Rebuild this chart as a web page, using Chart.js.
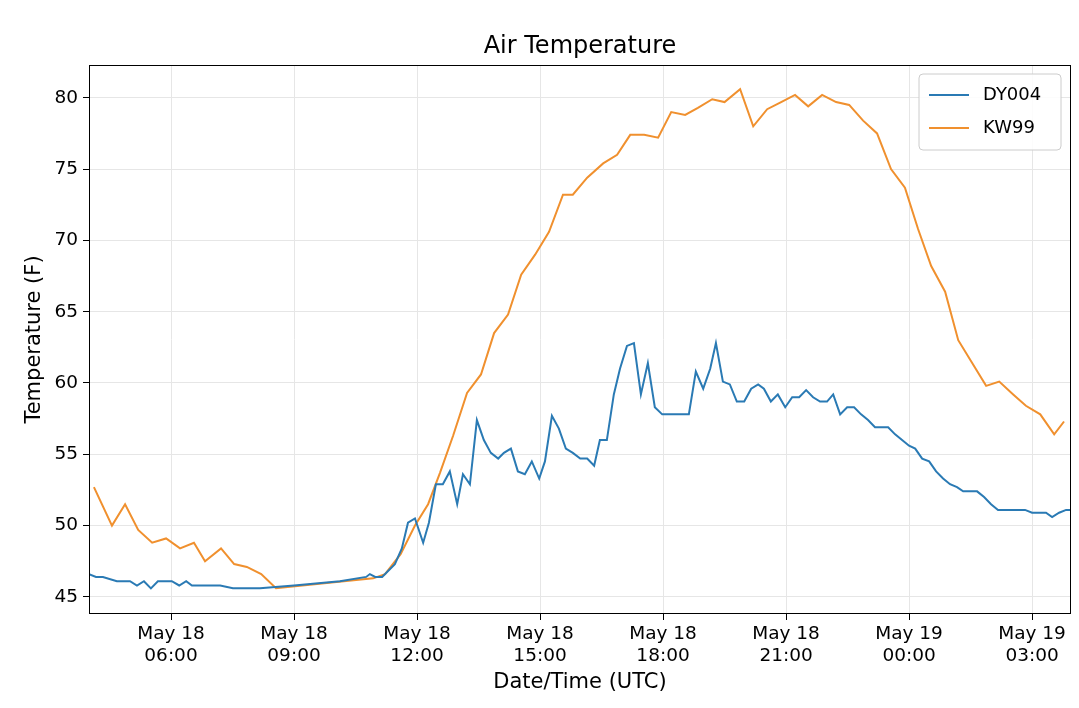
<!DOCTYPE html>
<html><head><meta charset="utf-8">
<script src="https://cdn.jsdelivr.net/npm/chart.js@4"></script>
<style>html,body{margin:0;padding:0;background:#fff}#w{width:1079px;height:708px}</style>
</head><body><div id="w"><canvas id="c"></canvas></div>
<script>
// hours since May 18 00:00 UTC
const dyHours=[4.00,4.17,4.34,4.68,5.00,5.17,5.34,5.51,5.68,6.02,6.20,6.37,6.51,7.20,7.51,8.17,9.00,10.12,10.76,10.85,10.98,11.15,11.46,11.63,11.78,11.95,12.15,12.29,12.46,12.63,12.80,12.98,13.12,13.29,13.46,13.63,13.80,13.98,14.12,14.29,14.46,14.63,14.80,14.98,15.12,15.29,15.46,15.63,15.80,15.98,16.15,16.32,16.46,16.63,16.80,16.95,17.12,17.29,17.46,17.63,17.80,17.98,18.63,18.80,18.98,19.15,19.29,19.46,19.63,19.80,19.98,20.15,20.32,20.46,20.63,20.80,20.98,21.15,21.32,21.49,21.66,21.83,22.00,22.15,22.32,22.49,22.66,22.83,23.00,23.17,23.49,23.66,23.83,24.00,24.15,24.32,24.49,24.66,24.83,25.00,25.17,25.32,25.66,25.83,26.00,26.17,26.83,27.00,27.34,27.49,27.66,27.83,27.95];
const dyTemp=[46.6,46.4,46.4,46.1,46.1,45.8,46.1,45.6,46.1,46.1,45.8,46.1,45.8,45.8,45.6,45.6,45.8,46.1,46.4,46.6,46.4,46.4,47.3,48.4,50.2,50.5,48.8,50.2,52.9,52.9,53.8,51.5,53.6,52.9,57.4,56.0,55.1,54.7,55.1,55.4,53.8,53.6,54.5,53.3,54.5,57.7,56.8,55.4,55.1,54.7,54.7,54.2,56.0,56.0,59.2,61.0,62.6,62.8,59.2,61.4,58.3,57.8,57.8,60.8,59.6,61.0,62.8,60.1,59.9,58.7,58.7,59.6,59.9,59.6,58.7,59.2,58.3,59.0,59.0,59.5,59.0,58.7,58.7,59.2,57.8,58.3,58.3,57.8,57.4,56.9,56.9,56.4,56.0,55.6,55.4,54.7,54.5,53.8,53.3,52.9,52.7,52.4,52.4,52.0,51.5,51.1,51.1,50.9,50.9,50.6,50.9,51.1,51.1];
const kwHours=[4.12,4.56,4.88,5.2,5.54,5.88,6.22,6.56,6.83,7.22,7.54,7.85,8.2,8.56,10.93,11.22,11.6,11.95,12.27,12.56,12.88,13.22,13.56,13.88,14.22,14.54,14.88,15.22,15.56,15.8,16.15,16.54,16.88,17.2,17.54,17.88,18.2,18.54,18.85,19.2,19.5,19.88,20.2,20.54,20.88,21.22,21.54,21.88,22.22,22.54,22.88,23.22,23.56,23.9,24.22,24.54,24.88,25.2,25.54,25.88,26.2,26.54,26.85,27.2,27.54,27.78];
const kwTemp=[52.7,50.0,51.5,49.7,48.8,49.1,48.4,48.8,47.5,48.4,47.3,47.1,46.6,45.6,46.3,46.6,48.0,50.0,51.5,53.7,56.3,59.3,60.6,63.5,64.8,67.6,69.0,70.6,73.2,73.2,74.4,75.4,76.0,77.4,77.4,77.2,79.0,78.8,79.3,79.9,79.7,80.6,78.0,79.2,79.7,80.2,79.4,80.2,79.7,79.5,78.4,77.5,75.0,73.7,70.8,68.2,66.4,63.0,61.4,59.8,60.1,59.2,58.4,57.8,56.4,57.3];
const xTickHours=[6,9,12,15,18,21,24,27];
const yTickValues=[45,50,55,60,65,70,75,80];
const seriesNames=['DY004','KW99'];
const colors=['#2a7ab4','#f0902e'];

const F='DejaVu Sans';
function pad(n){return String(n).padStart(2,'0');}
function xLabel(h){const day=h>=24?19:18;return ['May '+day, pad(h%24)+':00'];}

const deco={id:'deco',afterDraw(ch){
  const c=ch.ctx,a=ch.chartArea;
  c.save();
  c.fillStyle='#000';c.font='24px '+F;c.textAlign='center';c.textBaseline='middle';
  c.fillText('Air Temperature',(a.left+a.right)/2,47);
  c.strokeStyle='#000';c.lineWidth=1;c.strokeRect(a.left+0.5,a.top+0.5,a.right-a.left-1,a.bottom-a.top-1);
  c.font='21px '+F;c.translate(35,(a.top+a.bottom)/2);c.rotate(-Math.PI/2);c.fillText('Temperature (F)',0,0);
  c.setTransform(ch.currentDevicePixelRatio,0,0,ch.currentDevicePixelRatio,0,0);
  c.fillText('Date/Time (UTC)',(a.left+a.right)/2,683);
  // legend
  const lx=a.right-152,ly=a.top+9,lw=142,lh=76;
  c.fillStyle='rgba(255,255,255,0.85)';c.strokeStyle='#ccc';
  c.beginPath();c.roundRect(lx,ly,lw,lh,4);c.fill();c.stroke();
  c.font='18px '+F;c.textAlign='left';
  seriesNames.forEach((n,i)=>{const y=ly+21+i*33;c.strokeStyle=colors[i];c.lineWidth=2;
    c.beginPath();c.moveTo(lx+10,y);c.lineTo(lx+50,y);c.stroke();c.fillStyle='#000';c.fillText(n,lx+64,y);});
  c.restore();
}};

new Chart(document.getElementById('c'),{
  type:'line',
  data:{datasets:[
    {label:seriesNames[0],data:dyHours.map((h,i)=>({x:h,y:dyTemp[i]})),borderColor:colors[0],borderWidth:2,pointRadius:0,tension:0},
    {label:seriesNames[1],data:kwHours.map((h,i)=>({x:h,y:kwTemp[i]})),borderColor:colors[1],borderWidth:2,pointRadius:0,tension:0}
  ]},
  options:{responsive:true,maintainAspectRatio:false,animation:false,
    layout:{padding:{top:65,right:8,left:0,bottom:0}},
    plugins:{legend:{display:false},title:{display:false},tooltip:{enabled:false}},
    scales:{
      x:{type:'linear',min:4,max:27.95,
        afterBuildTicks:s=>{s.ticks=xTickHours.map(v=>({value:v}));},
        afterFit:s=>{s.height=94;},
        ticks:{color:'#000',font:{family:F,size:18.5},maxRotation:0,autoSkip:false,padding:3,callback:v=>xLabel(v)},
        grid:{color:'#e6e6e6',tickColor:'#000',tickLength:6,drawTicks:true},
        border:{display:false}},
      y:{min:43.8,max:82.3,
        afterBuildTicks:s=>{s.ticks=yTickValues.map(v=>({value:v}));},
        afterFit:s=>{s.width=89;},
        ticks:{color:'#000',font:{family:F,size:18.5},padding:5},
        grid:{color:'#e6e6e6',tickColor:'#000',tickLength:6},
        border:{display:false}}
    }},
  plugins:[deco]
});
</script></body></html>
